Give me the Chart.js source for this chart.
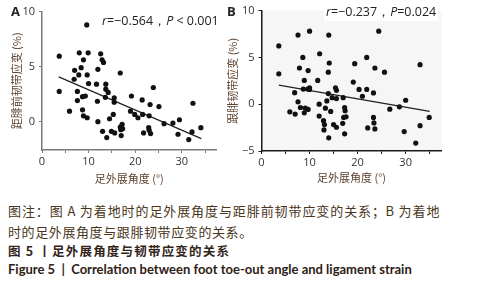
<!DOCTYPE html>
<html>
<head>
<meta charset="utf-8">
<script src="https://cdn.jsdelivr.net/npm/chart.js@4.4.1/dist/chart.umd.min.js"></script>
<style>
  body { margin: 0; background: #fff; width: 491px; height: 300px; overflow: hidden; position: relative; }
  canvas { position: absolute; top: 0; }
  #chartA { left: 0; }
  #chartB { left: 225px; }
  .txt { position: absolute; white-space: nowrap; }
  .panel { font: bold 13px "Open Sans", sans-serif; color: #222; }
  .stat { font: 12.5px "Open Sans", sans-serif; color: #222; }
  .stat i { font-style: italic; }
  .cap { font: 13px "Noto Sans CJK SC", sans-serif; color: #4a3520; line-height: 16px; letter-spacing: 0.6px; }
  .capb { font: bold 12.5px "Noto Sans CJK SC", sans-serif; color: #33241a; line-height: 16px; letter-spacing: 1.2px; }
  .capen { font: bold 13px Lato, sans-serif; color: #2e2014; line-height: 16px; }
</style>
</head>
<body>
<canvas id="chartA" width="240" height="192"></canvas>
<canvas id="chartB" width="266" height="192"></canvas>

<div class="txt panel" style="left:11px; top:2px;">A</div>
<div class="txt panel" style="left:227px; top:2px;">B</div>
<div class="txt stat" style="left:102px; top:12px;"><i>r</i>=−0.564，<i>P</i> &lt; 0.001</div>
<div class="txt stat" style="left:324px; top:3px; background:#fff; padding:0 2px;"><i>r</i>=−0.237，<i>P</i>=0.024</div>

<div class="txt cap" style="left:8px; top:203px; width:432px; text-align-last: justify;">图注：图 A 为着地时的足外展角度与距腓前韧带应变的关系；B 为着地</div>
<div class="txt cap" style="left:8px; top:224px;">时的足外展角度与跟腓韧带应变的关系。</div>
<div class="txt capb" style="left:8px; top:243px;">图 5 丨足外展角度与韧带应变的关系</div>
<div class="txt capen" style="left:8px; top:261px;">Figure 5 &nbsp;| &nbsp;Correlation between foot toe-out angle and ligament strain</div>

<script>
// panel A: foot toe-out angle vs ATFL strain
const angleA = [3.7, 3.7, 5.9, 6.9, 7.0, 7.6, 7.6, 7.9, 8.0, 8.4, 8.7, 8.7, 8.9, 8.9, 9.3, 9.6, 9.7, 9.7, 9.9, 10.0,
  11.7, 11.9, 12.0, 12.0, 12.6, 12.9, 13.2, 13.0, 13.6, 13.7, 13.7, 13.9, 14.2, 14.5, 14.9, 15.3, 15.5, 15.5, 15.6,
  16.8, 16.8, 16.9, 17.0, 17.2, 17.3, 19.0, 19.2, 19.9, 20.6, 21.5, 21.6, 21.8, 22.9, 23.0, 23.0, 23.2, 23.3, 23.9,
  25.1, 26.2, 28.1, 29.2, 29.5, 31.5, 32.2, 32.4, 34.1];
const strainA = [5.96, 2.75, 0.96, 3.86, 4.67, 2.75, 1.92, 4.25, 6.26, 4.91, 2.28, 1.08, 5.63, 0.54, 2.34, 8.8, 4.25, 0.36, 6.26, 3.47,
  3.41, 1.86, 4.76, 0.0, 6.17, 5.63, 5.39, -0.87, 2.22, 3.41, 2.96, -1.44, 2.66, 0.27, -0.87, 0.66, 2.16, 1.77, -1.02,
  4.43, -0.48, -0.72, -1.26, -0.24, -0.63, 0.96, 2.34, 0.66, 0.36, 1.98, 0.66, -1.02, -0.54, 0.54, -0.78, 1.56, -1.08, 3.11,
  1.38, -0.18, -0.12, -1.14, 0.18, -1.62, -0.93, 1.68, -0.54];
const fitAngleA = [3.6, 34.2];
const fitStrainA = [4.07, -1.53];

// panel B: foot toe-out angle vs CFL strain
const angleB = [3.6, 3.6, 5.9, 6.9, 7.0, 7.6, 7.6, 7.9, 8.1, 8.6, 8.9, 8.9, 8.7, 9.1, 9.6, 9.7, 9.7, 10.0, 10.0, 10.0,
  11.7, 12.0, 12.0, 12.1, 12.9, 13.0, 13.1, 13.3, 13.6, 13.9, 13.9, 14.0, 14.0, 14.1, 14.4, 14.7, 15.0, 15.4, 15.6, 15.6, 15.6,
  16.9, 17.0, 17.1, 17.3, 17.3, 17.4, 17.6, 19.1, 19.4, 20.3, 21.0, 21.9, 21.9, 22.1, 23.3, 23.3, 23.4, 23.6, 23.6,
  24.4, 25.6, 26.7, 28.7, 29.7, 30.0, 32.1, 33.0, 33.0, 34.9];
const strainB = [6.23, 3.24, -0.81, 1.23, -1.06, 0.25, 7.39, 3.87, -0.35, 5.0, 2.54, -0.92, 1.62, -0.42, 1.62, 3.59, -0.56, 7.8, 1.76, 1.58,
  2.54, 0.0, -1.27, 5.39, -1.76, -2.75, -2.18, -0.42, 0.35, 3.42, 1.13, 7.39, -3.59, 4.4, -0.77, 0.7, -2.18, 1.76, 1.48, 0.6, -2.46,
  -2.04, 0.7, -1.41, -3.17, -0.35, -0.7, -1.34, 2.36, 4.33, 1.58, 0.85, 5.0, 1.58, -2.54, 1.2, -1.41, -2.0, -2.64, 3.87,
  7.8, 3.42, -0.53, -0.28, -2.92, 0.42, -4.15, -2.29, 4.22, -1.41];
const fitAngleB = [3.6, 35.0];
const fitStrainB = [2.04, -0.77];

const xTicks = [0, 5, 10, 15, 20, 25, 30, 35];
const yTicksA = [0, 5, 10];
const yTicksB = [-5, 0, 5, 10];

const tickFont = { family: '"Open Sans", sans-serif', size: 11 };
const titleFont = { family: '"Noto Sans CJK SC", sans-serif', size: 11 };
const titleColor = '#5e4330';

function toPoints(xs, ys) {
  return xs.map((x, i) => ({ x: x, y: ys[i] }));
}

const plotBg = {
  id: 'plotBg',
  beforeDraw(chart, args, opts) {
    if (!opts.color) return;
    const a = chart.chartArea;
    chart.ctx.save();
    chart.ctx.fillStyle = opts.color;
    chart.ctx.fillRect(a.left, a.top, a.right - a.left, a.bottom - a.top);
    chart.ctx.restore();
  }
};

function makePanel(id, cfg) {
  const ctx = document.getElementById(id).getContext('2d');
  new Chart(ctx, {
    type: 'scatter',
    data: {
      datasets: [
        {
          data: toPoints(cfg.xs, cfg.ys),
          backgroundColor: '#111',
          borderWidth: 0,
          pointRadius: 2.6
        },
        {
          type: 'line',
          data: toPoints(cfg.fitX, cfg.fitY),
          borderColor: '#222',
          borderWidth: 1.3,
          pointRadius: 0,
          fill: false
        }
      ]
    },
    plugins: [plotBg],
    options: {
      responsive: false,
      animation: false,
      events: [],
      layout: { padding: { top: cfg.top, right: cfg.right, left: 0, bottom: 0 } },
      plugins: {
        legend: { display: false },
        tooltip: { enabled: false },
        plotBg: { color: cfg.bg }
      },
      scales: {
        x: {
          type: 'linear',
          min: 0,
          max: 37.5,
          afterBuildTicks: s => { s.ticks = xTicks.map(v => ({ value: v })); },
          afterFit: s => { s.height = cfg.xAxisH; },
          ticks: {
            font: tickFont,
            color: '#333',
            padding: 2,
            maxRotation: 0,
            autoSkip: false,
            callback: v => (v % 10 === 0 ? v : '')
          },
          grid: { display: true, drawOnChartArea: false, drawTicks: true, tickLength: 3, color: cfg.axisColor },
          border: { display: true, color: cfg.axisColor, width: 1.5 },
          title: { display: true, text: '足外展角度 (°)', font: titleFont, color: titleColor, padding: { top: 0, bottom: cfg.xTitlePad } }
        },
        y: {
          type: 'linear',
          min: cfg.yMin,
          max: 10,
          afterBuildTicks: s => { s.ticks = cfg.yTicks.map(v => ({ value: v })); },
          afterFit: s => { s.width = cfg.yAxisW; },
          ticks: {
            font: tickFont,
            color: '#333',
            padding: 4,
            callback: v => (v < 0 ? '−' + Math.abs(v) : v)
          },
          grid: { display: true, drawOnChartArea: false, drawTicks: true, tickLength: 3, color: cfg.axisColor },
          border: { display: true, color: cfg.axisColor, width: 1.5 },
          title: { display: true, text: cfg.yTitle, font: titleFont, color: titleColor, padding: { top: cfg.yTitlePad, bottom: 0 } }
        }
      }
    }
  });
}

makePanel('chartA', {
  xs: angleA, ys: strainA, fitX: fitAngleA, fitY: fitStrainA,
  yMin: -2.57, yTicks: yTicksA, yTitle: '距腓前韧带应变 (%)',
  top: 11.7, right: 23.3, xAxisH: 42, yAxisW: 42,
  xTitlePad: 6.4, yTitlePad: 10, axisColor: '#7a7a7a', bg: null
});

makePanel('chartB', {
  xs: angleB, ys: strainB, fitX: fitAngleB, fitY: fitStrainB,
  yMin: -5, yTicks: yTicksB, yTitle: '跟腓韧带应变 (%)',
  top: 8.5, right: 49.3, xAxisH: 41, yAxisW: 36.5,
  xTitlePad: 7.4, yTitlePad: 1.4, axisColor: '#1a1a1a', bg: '#f6f6f6'
});
</script>
</body>
</html>
